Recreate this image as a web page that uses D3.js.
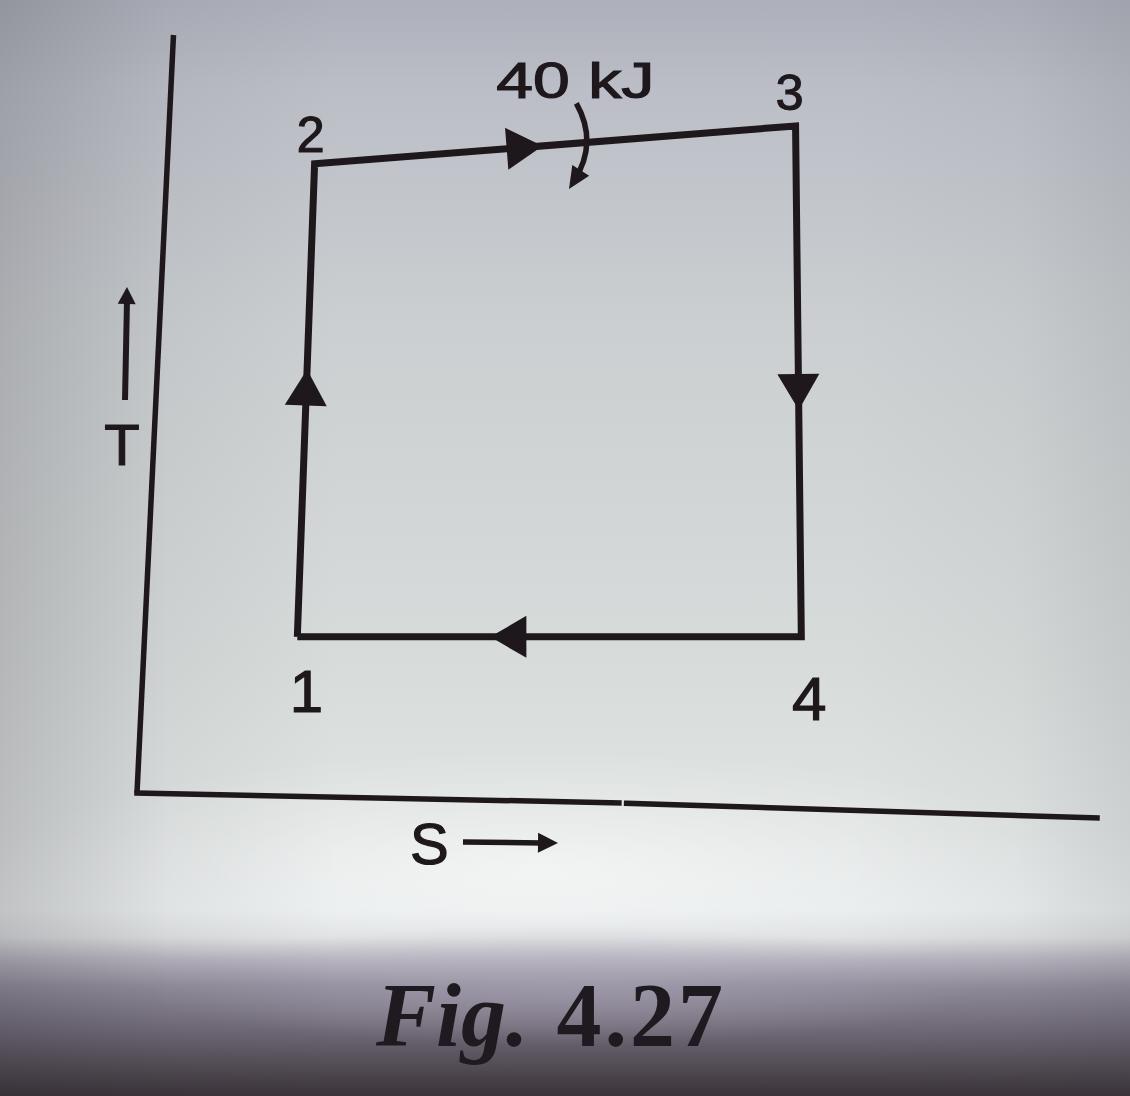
<!DOCTYPE html>
<html>
<head>
<meta charset="utf-8">
<script src="https://cdn.jsdelivr.net/npm/d3@7"></script>
<style>
  html, body { margin: 0; padding: 0; background: #cfd3d3; }
  svg { display: block; }
</style>
</head>
<body>
<div id="chart"></div>
<script>
// ---------- data ----------
const stateNames = ["1", "2", "3", "4"];
const stateS = [16.7, 18.5, 68.6, 69.2];      // entropy coordinate of each state
const stateT = [20.6, 83.0, 88.0, 20.6];      // temperature coordinate of each state
const cycleOrder = [0, 1, 2, 3, 0];           // 1 -> 2 -> 3 -> 4 -> 1
const heatLabel = "40 kJ";                    // heat supplied on process 2-3
const axisNames = ["T", "S"];
const captionLeft = "Fig.";
const captionRight = "4.27";
// axis lines (S, T pairs)
const tAxisS = [0, 3.8];
const tAxisT = [0, 100];
const sAxisS = [[0, 50.2], [51.0, 100]];
const sAxisT = [[0, -1.3], [-1.35, -3.3]];

// ---------- layout ----------
const W = 1130, H = 1096;
const ink = "#1e181c";
const x = d3.scaleLinear().domain([0, 100]).range([137, 1097]);
const y = d3.scaleLinear().domain([0, 100]).range([793, 35]);

const svg = d3.select("#chart").append("svg")
  .attr("width", W).attr("height", H).attr("viewBox", `0 0 ${W} ${H}`);

// ---------- photographic background ----------
const defs = svg.append("defs");
const vg = defs.append("linearGradient").attr("id", "bgv")
  .attr("x1", 0).attr("y1", 0).attr("x2", 0).attr("y2", 1);
[[0, "#adb0ba"], [0.08, "#bbbec6"], [0.3, "#cbcfd1"], [0.6, "#d7dbda"],
 [0.76, "#e0e4e3"], [0.83, "#e7ebeb"], [0.855, "#dcdfe0"], [0.875, "#b6b4be"],
 [0.9, "#928d9b"], [0.94, "#6f6977"], [1, "#3a3339"]]
  .forEach(([o, c]) => vg.append("stop").attr("offset", o).attr("stop-color", c));

const hg = defs.append("linearGradient").attr("id", "bgh")
  .attr("x1", 0).attr("y1", 0).attr("x2", 1).attr("y2", 0);
[[0, 0.2], [0.15, 0.05], [0.3, 0], [0.75, 0], [0.9, 0.03], [1, 0.1]]
  .forEach(([o, a]) => hg.append("stop").attr("offset", o)
    .attr("stop-color", "#2a2630").attr("stop-opacity", a));

const rg = defs.append("radialGradient").attr("id", "glow")
  .attr("cx", 0.5).attr("cy", 0.5).attr("r", 0.5);
rg.append("stop").attr("offset", 0).attr("stop-color", "#ffffff").attr("stop-opacity", 0.55);
rg.append("stop").attr("offset", 0.6).attr("stop-color", "#ffffff").attr("stop-opacity", 0.18);
rg.append("stop").attr("offset", 1).attr("stop-color", "#ffffff").attr("stop-opacity", 0);

const rg2 = defs.append("radialGradient").attr("id", "glow2")
  .attr("cx", 0.5).attr("cy", 0.5).attr("r", 0.5);
rg2.append("stop").attr("offset", 0).attr("stop-color", "#a8a2b4").attr("stop-opacity", 0.55);
rg2.append("stop").attr("offset", 1).attr("stop-color", "#a8a2b4").attr("stop-opacity", 0);

svg.append("rect").attr("width", W).attr("height", H).attr("fill", "url(#bgv)");
svg.append("ellipse").attr("cx", 540).attr("cy", 870).attr("rx", 560).attr("ry", 120)
  .attr("fill", "url(#glow)");
svg.append("ellipse").attr("cx", 560).attr("cy", 985).attr("rx", 420).attr("ry", 60)
  .attr("fill", "url(#glow2)");
svg.append("rect").attr("width", W).attr("height", H).attr("fill", "url(#bgh)");

// ---------- axes ----------
const line = d3.line().x(d => x(d[0])).y(d => y(d[1]));
svg.append("path")
  .attr("d", line(tAxisS.map((s, i) => [s, tAxisT[i]])))
  .attr("fill", "none").attr("stroke", ink).attr("stroke-width", 5.5);
sAxisS.forEach((seg, k) => {
  svg.append("path")
    .attr("d", line(seg.map((s, i) => [s, sAxisT[k][i]])))
    .attr("fill", "none").attr("stroke", ink).attr("stroke-width", 5.5)
    .attr("stroke-linecap", "square");
});

// ---------- cycle ----------
const pts = cycleOrder.map(i => [stateS[i], stateT[i]]);
svg.append("path")
  .attr("d", line(pts))
  .attr("fill", "none").attr("stroke", ink).attr("stroke-width", 7)
  .attr("stroke-linejoin", "miter");

function arrowHead(p0, p1, frac, len, half) {
  const dx = p1[0] - p0[0], dy = p1[1] - p0[1];
  const L = Math.hypot(dx, dy), ux = dx / L, uy = dy / L;
  const tx = p0[0] + frac * dx, ty = p0[1] + frac * dy;
  const bx = tx - len * ux, by = ty - len * uy;
  return `M${tx},${ty}L${bx - half * uy},${by + half * ux}L${bx + half * uy},${by - half * ux}Z`;
}
const arrowFrac = [0.565, 0.474, 0.556, 0.617];
for (let k = 0; k < 4; k++) {
  const a = [x(pts[k][0]), y(pts[k][1])], b = [x(pts[k + 1][0]), y(pts[k + 1][1])];
  svg.append("path").attr("d", arrowHead(a, b, arrowFrac[k], 36, 21)).attr("fill", ink);
}

// ---------- state labels ----------
const labelOffset = [[9, 75], [-4, -12], [-6, -16], [8, 83]];
const labelSize = [60, 50, 50, 62];
stateNames.forEach((n, i) => {
  svg.append("text")
    .attr("x", x(stateS[i]) + labelOffset[i][0])
    .attr("y", y(stateT[i]) + labelOffset[i][1])
    .attr("text-anchor", "middle")
    .attr("font-family", "'Liberation Sans', Arial, sans-serif")
    .attr("font-size", labelSize[i]).attr("fill", ink)
    .attr("stroke", ink).attr("stroke-width", 1.2)
    .text(n);
});

// ---------- heat annotation ----------
{
  const a = [x(stateS[1]), y(stateT[1])], b = [x(stateS[2]), y(stateT[2])];
  const f = 0.565;
  const cx = a[0] + f * (b[0] - a[0]), cy = a[1] + f * (b[1] - a[1]);
  const sx = cx - 10, sy = cy - 39, qx = cx + 12, qy = cy, ex = cx - 12, ey = cy + 38;
  svg.append("path")
    .attr("d", `M${sx},${sy}Q${qx},${qy} ${ex},${ey}`)
    .attr("fill", "none").attr("stroke", ink).attr("stroke-width", 5.5);
  const ux = ex - qx, uy = ey - qy, L = Math.hypot(ux, uy);
  svg.append("path")
    .attr("d", arrowHead([ex - ux / L * 10, ey - uy / L * 10], [ex, ey], 2.0, 22, 10))
    .attr("fill", ink);
  svg.append("text")
    .attr("x", cx - 90).attr("y", cy - 44)
    .attr("font-family", "'Liberation Sans', Arial, sans-serif")
    .attr("font-size", 50).attr("fill", ink)
    .attr("stroke", ink).attr("stroke-width", 1.2)
    .attr("textLength", 158).attr("lengthAdjust", "spacingAndGlyphs")
    .text(heatLabel);
}

// ---------- axis names with arrows ----------
svg.append("text").attr("x", 122).attr("y", 465).attr("text-anchor", "middle")
  .attr("font-family", "'Liberation Sans', Arial, sans-serif")
  .attr("font-size", 58).attr("fill", ink)
  .attr("stroke", ink).attr("stroke-width", 1.2).text(axisNames[0]);
svg.append("line").attr("x1", 125).attr("y1", 400).attr("x2", 127).attr("y2", 300)
  .attr("stroke", ink).attr("stroke-width", 6);
svg.append("path").attr("d", arrowHead([125, 400], [127, 287], 1, 17, 9)).attr("fill", ink);

svg.append("text").attr("x", 410).attr("y", 864)
  .attr("font-family", "'Liberation Sans', Arial, sans-serif")
  .attr("font-size", 58).attr("fill", ink)
  .attr("stroke", ink).attr("stroke-width", 1.2).text(axisNames[1]);
svg.append("line").attr("x1", 463).attr("y1", 842).attr("x2", 542).attr("y2", 843)
  .attr("stroke", ink).attr("stroke-width", 5.5);
svg.append("path").attr("d", arrowHead([463, 842], [558, 843], 1, 20, 10)).attr("fill", ink);

// ---------- caption ----------
const cap = svg.append("text").attr("x", 376).attr("y", 1046)
  .attr("font-family", "'Liberation Serif', 'Times New Roman', serif")
  .attr("font-size", 90).attr("font-weight", "bold").attr("fill", "#1f1a1f");
cap.append("tspan").attr("font-style", "italic").text(captionLeft);
cap.append("tspan").attr("dx", 28).attr("letter-spacing", 3).text(captionRight);
</script>
</body>
</html>
